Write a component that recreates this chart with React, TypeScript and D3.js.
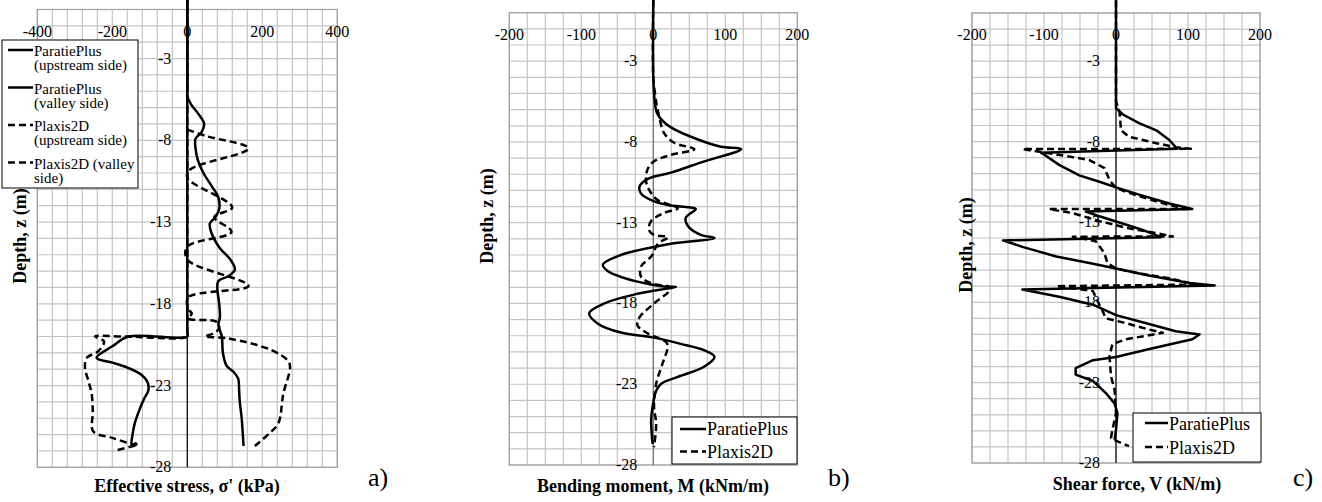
import React from 'react';
import * as d3 from 'd3';

type Pt = [number, number];

// depth labels and x tick labels
const depthTicks = [-28, -23, -18, -13, -8, -3];
const stressTicks = [-400, -200, 0, 200, 400];
const forceTicks = [-200, -100, 0, 100, 200];

// a) effective stress (kPa, depth m)
const stressParatieUp: Pt[] = [[0, 0.8], [0, -19.7], [0, -20], [-157, -20], [-200, -20.6], [-242, -21.3], [-200, -21.6], [-160, -21.9], [-125, -22.3], [-106, -22.8], [-104, -23.3], [-115, -23.8], [-128, -24.5], [-140, -25.3], [-146, -26.0], [-148, -26.6], [-135, -26.5]];
const stressParatieValley: Pt[] = [[0, 0.8], [0, -5.0], [0, -5.3], [10, -5.8], [30, -6.4], [45, -7.0], [38, -7.5], [22, -7.9], [22, -8.5], [28, -9.2], [43, -10.0], [65, -10.8], [83, -11.5], [85, -12.2], [75, -12.7], [60, -13.1], [65, -13.7], [87, -14.6], [115, -15.3], [127, -15.9], [110, -16.3], [83, -16.6], [80, -17.0], [85, -18.0], [87, -18.8], [83, -19.3], [92, -20.0], [95, -21.0], [105, -21.8], [125, -22.2], [136, -22.6], [138, -23.2], [140, -24.0], [145, -25.0], [150, -26.7]];
const stressPlaxisUp: Pt[] = [[0, 0.8], [0, -19.7], [0, -20], [-166, -20], [-246, -20], [-222, -20.3], [-237, -20.9], [-268, -21.3], [-273, -21.9], [-264, -22.7], [-255, -23.5], [-252, -24.6], [-251, -25.8], [-200, -26.2], [-144, -26.6], [-131, -26.6], [-197, -27.0]];
const stressPlaxisValley: Pt[] = [[0, -7.35], [52, -7.75], [163, -8.5], [7, -9.8], [0, -10.3], [120, -12.1], [72, -12.7], [118, -13.6], [0, -14.5], [0, -15.3], [163, -16.9], [3, -17.6], [2, -18.3], [12, -18.6], [2, -18.9], [78, -19.1], [85, -19.5], [70, -19.8], [47, -20.0], [105, -20.1], [221, -20.8], [269, -21.5], [274, -21.9], [256, -23.5], [243, -25.3], [220, -25.9], [180, -26.7]];

// b) bending moment (kNm/m)
const momentParatie: Pt[] = [[0, 0.8], [0, -4], [2, -5.5], [5, -6.2], [11, -6.6], [24.5, -7.1], [62, -7.85], [94, -8.3], [122, -8.45], [71, -9.2], [24.5, -9.9], [-8, -10.3], [-19, -10.75], [-17, -11.2], [-3, -11.6], [20, -11.9], [50, -12.05], [59, -12.15], [45, -12.7], [48, -13.2], [66, -13.75], [85, -13.95], [24.5, -14.3], [1, -14.5], [-45, -15.0], [-70, -15.6], [-63, -16.0], [-22, -16.65], [15, -16.95], [31.5, -16.97], [-22, -17.4], [-68, -18.0], [-89, -18.6], [-77, -19.25], [-45, -19.8], [-1, -20.1], [38, -20.5], [71, -20.9], [85, -21.3], [71, -21.9], [34, -22.55], [11, -22.97], [4, -23.4], [-1, -24.4], [-3, -25.2], [-1, -26.7]];
const momentPlaxis: Pt[] = [[0, 0.8], [0, -4], [3, -5.2], [5, -5.8], [8, -6.4], [15, -7.45], [29, -8.05], [57, -8.45], [24.5, -8.8], [1, -9.2], [-8, -9.7], [-10, -10.45], [-6, -10.95], [6, -11.6], [34, -12.1], [15, -12.4], [-3, -12.9], [-6, -13.45], [1, -13.75], [20, -13.9], [6.5, -14.3], [-3, -15.1], [-17, -15.7], [-17, -16.35], [-3, -16.75], [24.5, -17.05], [1, -18.0], [-19, -18.85], [-22, -19.35], [-8, -19.85], [18, -20.4], [20, -20.7], [13, -21.7], [4, -22.97], [1, -24.4], [4, -25.45], [1, -26.9]];

// c) shear force (kN/m)
const shearParatie: Pt[] = [[0, 0.8], [0, -5.9], [9, -6.3], [32, -6.85], [56, -7.3], [74, -7.9], [85, -8.45], [-104, -8.7], [-100, -8.8], [-79, -9.45], [-51, -10.1], [-23, -10.5], [0, -10.85], [32, -11.3], [74, -11.85], [106, -12.2], [-42, -12.35], [-23, -12.65], [9, -13.1], [37, -13.5], [62, -13.95], [-157, -14.15], [-130, -14.55], [-83, -15.15], [-37, -15.55], [0, -15.9], [42, -16.3], [102, -16.8], [137, -16.95], [-130, -17.2], [-79, -17.65], [-32, -18.15], [0, -18.8], [42, -19.3], [83, -19.8], [116, -20.0], [106, -20.3], [42, -20.95], [0, -21.4], [-32, -21.6], [-56, -22.1], [-56, -22.5], [-32, -22.9], [-14, -23.65], [-2, -24.3], [2, -24.9], [0, -25.95], [-2, -26.55]];
const shearPlaxis: Pt[] = [[0, 0.8], [0, -5.5], [5, -6.2], [7, -7.3], [18, -7.7], [56, -8.1], [83, -8.35], [104, -8.45], [-130, -8.47], [-69, -8.9], [-37, -9.15], [-16, -9.65], [-9, -10.4], [0, -10.9], [32, -11.4], [74, -11.95], [104, -12.2], [-93, -12.2], [-60, -12.45], [-23, -12.95], [18, -13.4], [56, -13.7], [79, -13.9], [-60, -13.92], [-28, -14.2], [-16, -14.95], [-12, -15.55], [0, -15.9], [32, -16.2], [74, -16.5], [111, -16.9], [-83, -17.0], [-32, -17.3], [-28, -17.7], [-19, -18.5], [-14, -19.0], [14, -19.3], [42, -19.65], [65, -19.9], [14, -20.3], [-5, -20.6], [-9, -21.35], [-7, -22.6], [-2, -23.45], [0, -24.9], [-5, -25.95], [-7, -26.45], [2, -26.65], [18, -26.95]];

const legendA = [['ParatiePlus', '(upstream side)'], ['ParatiePlus', '(valley side)'], ['Plaxis2D', '(upstream side)'], ['Plaxis2D (valley', 'side)']];
const legendBC = ['ParatiePlus', 'Plaxis2D'];

const FONT = "'Liberation Serif', 'Times New Roman', serif";
const DASH = '7,4';

const Panel = (props) => {
  const { left, right, top, bottom, domain, ticks, step, series, axisColor = '#000', curve = d3.curveCatmullRom.alpha(0.5) } = props;
  const x = d3.scaleLinear().domain(domain).range([left, right]);
  const y = d3.scaleLinear().domain([-28, 0]).range([bottom, top]);
  const line = d3.line<Pt>().x(d => x(d[0])).y(d => y(d[1])).curve(curve);
  const vGrid = d3.range(domain[0], domain[1] + 0.001, step);
  const hGrid = d3.range(-28, 0.001, 1);
  return <g>
    {vGrid.map((v, i) => <line key={'v' + i} x1={x(v)} x2={x(v)} y1={top} y2={bottom} stroke="#c4c4c4" strokeWidth={1.2} />)}
    {hGrid.map((v, i) => <line key={'h' + i} x1={left} x2={right} y1={y(v)} y2={y(v)} stroke="#c4c4c4" strokeWidth={1.2} />)}
    <rect x={left} y={top} width={right - left} height={bottom - top} fill="none" stroke="#a0a0a0" strokeWidth={1.2} />
    <line x1={x(0)} x2={x(0)} y1={top} y2={bottom} stroke={axisColor} strokeWidth={1.2} />
    {ticks.map(t => <text key={'xt' + t} x={x(t)} y={top + 27} textAnchor="middle" fontSize={16}>{t}</text>)}
    {depthTicks.map(t => <text key={'yt' + t} x={x(0) - 16} y={y(t) + 5} textAnchor="end" fontSize={16}>{t}</text>)}
    {series.map((s, i) => <path key={i} d={line(s.data)} fill="none" stroke="#000" strokeWidth={2.5}
      strokeDasharray={s.dashed ? DASH : undefined} strokeLinejoin="round" />)}
  </g>;
};

const DepthTitle = ({ cx, cy }) =>
  <text transform={`translate(${cx + 6}, ${cy}) rotate(-90)`} textAnchor="middle" fontSize={18} fontWeight="bold">Depth, z (m)</text>;

const App = () => {
  return (
    <svg width={1322} height={502} style={{ position: 'absolute', left: 0, top: 0, background: '#fff', fontFamily: FONT }}>
      <Panel left={37.3} right={337.3} top={9.5} bottom={467.3} domain={[-400, 400]} ticks={stressTicks} step={40}
        series={[
          { data: stressParatieUp }, { data: stressParatieValley },
          { data: stressPlaxisUp, dashed: true }, { data: stressPlaxisValley, dashed: true },
        ]} />
      <Panel left={509.3} right={797.3} top={12.7} bottom={465} domain={[-200, 200]} ticks={forceTicks} step={25} axisColor="#6e6e6e"
        series={[{ data: momentParatie }, { data: momentPlaxis, dashed: true }]} />
      <Panel left={972} right={1260} top={13} bottom={463} domain={[-200, 200]} ticks={forceTicks} step={25} curve={d3.curveLinear}
        series={[{ data: shearParatie }, { data: shearPlaxis, dashed: true }]} />

      {/* legend a */}
      <g>
        <rect x={2} y={40} width={136} height={148} fill="#fff" stroke="#000" strokeWidth={1} />
        {legendA.map((item, i) => <g key={i}>
          <line x1={8} x2={33} y1={50 + i * 37.5} y2={50 + i * 37.5} stroke="#000" strokeWidth={2.5} strokeDasharray={i > 1 ? DASH : undefined} />
          <text x={34} y={56 + i * 37.5} fontSize={15}>{item[0]}</text>
          <text x={34} y={70 + i * 37.5} fontSize={15}>{item[1]}</text>
        </g>)}
      </g>
      {/* legend b */}
      <g>
        <rect x={672} y={417} width={125} height={47} fill="#fff" stroke="#000" strokeWidth={1} />
        {legendBC.map((item, i) => <g key={i}>
          <line x1={680} x2={706} y1={429 + i * 22.5} y2={429 + i * 22.5} stroke="#000" strokeWidth={2.5} strokeDasharray={i ? DASH : undefined} />
          <text x={707} y={435 + i * 22.5} fontSize={18}>{item}</text>
        </g>)}
      </g>
      {/* legend c */}
      <g>
        <rect x={1133} y={413} width={128} height={49} fill="#fff" stroke="#000" strokeWidth={1} />
        {legendBC.map((item, i) => <g key={i}>
          <line x1={1145} x2={1168} y1={423 + i * 24} y2={423 + i * 24} stroke="#000" strokeWidth={2.5} strokeDasharray={i ? DASH : undefined} />
          <text x={1169} y={430 + i * 24} fontSize={18}>{item}</text>
        </g>)}
      </g>

      <text x={187} y={492} textAnchor="middle" fontSize={18} fontWeight="bold">Effective stress, σ' (kPa)</text>
      <text x={653} y={492} textAnchor="middle" fontSize={18} fontWeight="bold">Bending moment, M (kNm/m)</text>
      <text x={1137} y={490} textAnchor="middle" fontSize={18} fontWeight="bold">Shear force, V (kN/m)</text>
      <DepthTitle cx={20} cy={236} />
      <DepthTitle cx={487} cy={216} />
      <DepthTitle cx={966} cy={245} />

      <text x={368} y={486} fontSize={26}>a)</text>
      <text x={828} y={486} fontSize={26}>b)</text>
      <text x={1293} y={486} fontSize={26}>c)</text>
    </svg>
  );
};

export default App;
